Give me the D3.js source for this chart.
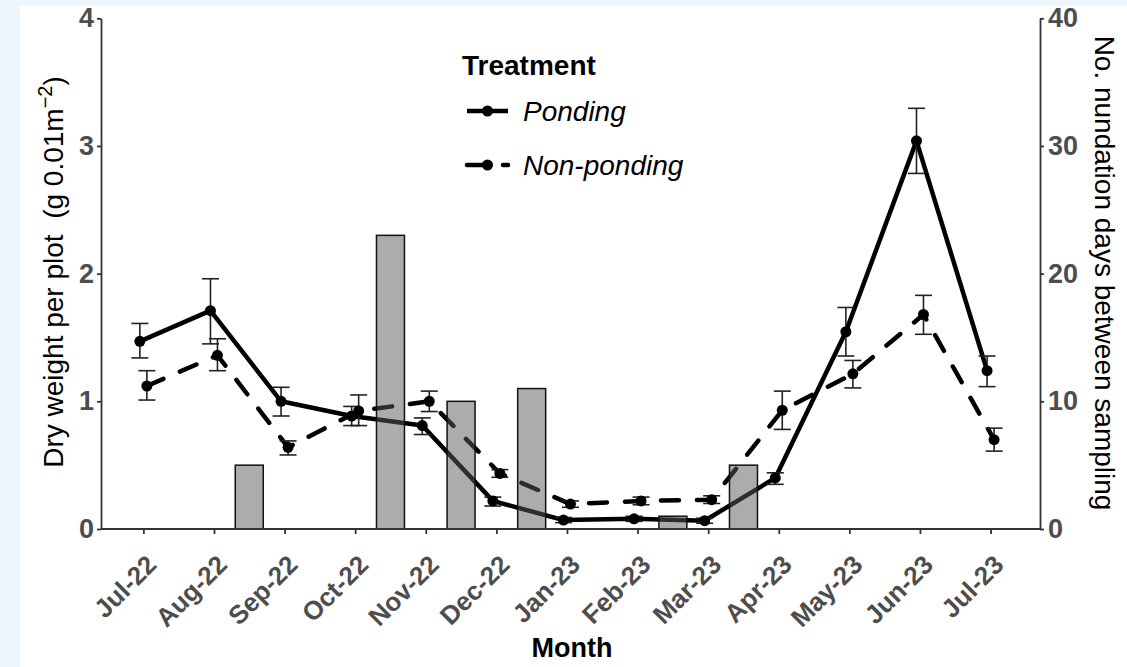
<!DOCTYPE html>
<html>
<head>
<meta charset="utf-8">
<script src="https://cdn.jsdelivr.net/npm/d3@7"></script>
<style>
  html, body { margin: 0; padding: 0; background: #eef6fd; }
  svg { display: block; font-family: "Liberation Sans", Arial, sans-serif; }
  text { white-space: pre; }
</style>
</head>
<body>
<svg id="chart" width="1127" height="667"></svg>
<script>
// ---- data ----
const months = ["Jul-22","Aug-22","Sep-22","Oct-22","Nov-22","Dec-22","Jan-23","Feb-23","Mar-23","Apr-23","May-23","Jun-23","Jul-23"];
const pondingMean = [1.47, 1.71, 1.00, 0.885, 0.81, 0.22, 0.07, 0.08, 0.065, 0.40, 1.545, 3.04, 1.24];
const pondingLow  = [1.34, 1.45, 0.885, 0.81, 0.74, 0.18, 0.05, 0.06, 0.045, 0.35, 1.355, 2.785, 1.115];
const pondingHigh = [1.61, 1.96, 1.11, 0.96, 0.87, 0.25, 0.09, 0.10, 0.085, 0.44, 1.735, 3.295, 1.355];
const nonMean = [1.12, 1.36, 0.64, 0.925, 1.00, 0.435, 0.195, 0.22, 0.23, 0.93, 1.215, 1.68, 0.70];
const nonLow  = [1.01, 1.24, 0.58, 0.81, 0.92, 0.405, 0.17, 0.19, 0.20, 0.78, 1.105, 1.525, 0.61];
const nonHigh = [1.24, 1.49, 0.69, 1.05, 1.08, 0.465, 0.22, 0.25, 0.26, 1.08, 1.32, 1.83, 0.79];
// inundation days in the interval between consecutive samplings (interval i = months[i] -> months[i+1])
const inundationDays = [0, 5, 0, 23, 10, 11, 0, 1, 5, 0, 0, 0];
const leftTicks = [0, 1, 2, 3, 4];
const rightTicks = [0, 10, 20, 30, 40];
const seriesNames = ["Ponding", "Non-ponding"];

// ---- layout ----
const svg = d3.select("#chart");
const W = 1127, H = 667;
const plot = {left: 101, right: 1040, top: 18.3, bottom: 529};
const ink = "#4d4d4d";

svg.append("rect").attr("x", 0).attr("y", 0).attr("width", W).attr("height", H).attr("fill", "#eef6fd");
svg.append("rect").attr("x", 20).attr("y", 6).attr("width", W - 20).attr("height", H - 6).attr("fill", "#ffffff");

const x = d3.scaleLinear().domain([-0.6, 12.7]).range([plot.left, plot.right]);
const yL = d3.scaleLinear().domain([0, 4]).range([plot.bottom, plot.top]);
const yR = d3.scaleLinear().domain([0, 40]).range([plot.bottom, plot.top]);
const dodge = 3.5;

const series = [
  {name: seriesNames[0], mean: pondingMean, lo: pondingLow, hi: pondingHigh, off: -dodge, dash: null},
  {name: seriesNames[1], mean: nonMean, lo: nonLow, hi: nonHigh, off: dodge, dash: "18 18"}
];

const g = svg.append("g");

// lines
const line = d3.line().x(d => d.x).y(d => d.y);
series.forEach(s => {
  const pts = s.mean.map((v, i) => ({x: x(i) + s.off, y: yL(v)}));
  g.append("path").attr("d", line(pts))
    .attr("fill", "none").attr("stroke", "#000").attr("stroke-width", 4.5)
    .attr("stroke-linecap", s.dash ? "round" : "butt")
    .attr("stroke-linejoin", "round")
    .attr("stroke-dasharray", s.dash);
});

// bars (inundation days, right axis), drawn between sampling months
const bw = 28;
g.selectAll("rect.bar").data(inundationDays.map((d, i) => ({d, i})).filter(o => o.d > 0))
  .enter().append("rect").attr("class", "bar")
  .attr("x", o => x(o.i + 0.5) - bw / 2)
  .attr("y", o => yR(o.d))
  .attr("width", bw)
  .attr("height", o => yR(0) - yR(o.d))
  .attr("fill", "rgba(90,90,90,0.5)")
  .attr("stroke", "#111").attr("stroke-width", 1.5);

// error bars + points
series.forEach(s => {
  s.mean.forEach((v, i) => {
    const cx = x(i) + s.off;
    const eg = g.append("g").attr("stroke", "#222").attr("stroke-width", 1.6);
    eg.append("line").attr("x1", cx).attr("x2", cx).attr("y1", yL(s.lo[i])).attr("y2", yL(s.hi[i]));
    eg.append("line").attr("x1", cx - 8.5).attr("x2", cx + 8.5).attr("y1", yL(s.lo[i])).attr("y2", yL(s.lo[i]));
    eg.append("line").attr("x1", cx - 8.5).attr("x2", cx + 8.5).attr("y1", yL(s.hi[i])).attr("y2", yL(s.hi[i]));
  });
  g.selectAll(null).data(s.mean).enter().append("circle")
    .attr("cx", (v, i) => x(i) + s.off).attr("cy", v => yL(v)).attr("r", 5.5).attr("fill", "#000");
});

// axes
function styleAxis(sel, size) {
  sel.select(".domain").attr("stroke", "#333").attr("stroke-width", 1.8);
  sel.selectAll(".tick line").attr("stroke", "#333").attr("stroke-width", 1.8);
  sel.selectAll(".tick text").attr("fill", ink).attr("font-weight", "bold")
    .attr("font-family", "'Liberation Sans', Arial, sans-serif").attr("font-size", size);
}
const axL = svg.append("g").attr("transform", `translate(${plot.left},0)`)
  .call(d3.axisLeft(yL).tickValues(leftTicks).tickFormat(d3.format("d")).tickSize(4).tickSizeOuter(0).tickPadding(3));
styleAxis(axL, 27);
const axR = svg.append("g").attr("transform", `translate(${plot.right},0)`)
  .call(d3.axisRight(yR).tickValues(rightTicks).tickFormat(d3.format("d")).tickSize(4).tickSizeOuter(0).tickPadding(4));
styleAxis(axR, 27);
const axB = svg.append("g").attr("transform", `translate(0,${plot.bottom})`)
  .call(d3.axisBottom(x).tickValues(d3.range(months.length)).tickFormat(i => months[i]).tickSize(5).tickSizeOuter(0));
styleAxis(axB, 26);
axB.select(".domain").attr("d", `M${plot.left},0H${plot.right}`);
axB.selectAll(".tick text")
  .attr("text-anchor", "end")
  .attr("y", 0).attr("dy", "0.72em")
  .attr("transform", "translate(1,24) rotate(-45)");

// titles
svg.append("text").attr("x", 572).attr("y", 657).attr("text-anchor", "middle")
  .attr("font-size", 27).attr("font-weight", "bold").attr("fill", "#000").text("Month");

const yt = svg.append("text").attr("transform", "translate(63,272) rotate(-90)")
  .attr("text-anchor", "middle").attr("font-size", 28).attr("fill", "#000");
yt.append("tspan").text("Dry weight per plot  (g 0.01m");
yt.append("tspan").attr("font-size", 20).attr("dy", -11).text("\u22122");
yt.append("tspan").attr("dy", 11).text(")");

svg.append("text").attr("transform", "translate(1095,273) rotate(90)")
  .attr("text-anchor", "middle").attr("font-size", 28).attr("fill", "#000")
  .text("No. nundation days between sampling");

// legend
const lg = svg.append("g");
lg.append("text").attr("x", 462).attr("y", 75).attr("font-size", 28).attr("font-weight", "bold").attr("fill", "#000").text("Treatment");
const keyY = [111, 165];
series.forEach((s, k) => {
  lg.append("line").attr("x1", 467).attr("x2", 508).attr("y1", keyY[k]).attr("y2", keyY[k])
    .attr("stroke", "#000").attr("stroke-width", 4.5)
    .attr("stroke-linecap", s.dash ? "round" : "butt")
    .attr("stroke-dasharray", s.dash);
  lg.append("circle").attr("cx", 487.5).attr("cy", keyY[k]).attr("r", 5.5).attr("fill", "#000");
  lg.append("text").attr("x", 523).attr("y", keyY[k] + 10).attr("font-size", 28).attr("font-style", "italic")
    .attr("fill", "#000").text(s.name);
});
</script>
</body>
</html>
